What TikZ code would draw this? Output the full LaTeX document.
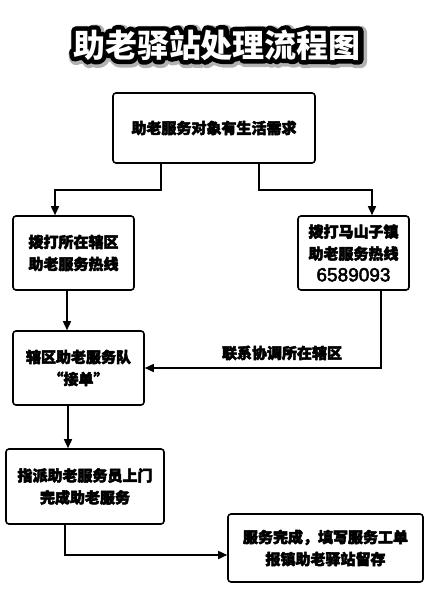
\documentclass[tikz,border=0pt]{standalone}
\usepackage{fontspec}
\setmainfont{Noto Sans CJK SC}
\newfontfamily\digitfont{Liberation Sans}
\usetikzlibrary{arrows.meta,calc}
\newcommand{\strokedtext}[2]{\special{pdf:literal direct 1 j 1 J #1 w 2 Tr}#2\special{pdf:literal direct 0 Tr 1 w}}
\newcommand{\hv}[1]{\strokedtext{0.5}{#1}}
\begin{document}
\begin{tikzpicture}[x=1pt,y=-1pt,
  box/.style={draw, line width=1.6pt, rounded corners=3pt, align=center, inner sep=0pt,
    font=\fontsize{15}{22}\selectfont\bfseries},
  arr/.style={line width=1.6pt, -{Triangle[length=9pt,width=8pt]}},
  lbl/.style={font=\fontsize{15}{22}\selectfont\bfseries, inner sep=0pt},
  tt/.style={font=\fontsize{32}{36}\selectfont\bfseries, inner sep=0pt}]
\useasboundingbox[fill=white] (0,0) rectangle (436,600);

% title with outline
\node[tt, text=black!30] (tshadow) at (218.5,46.5) {\strokedtext{13}{助老驿站处理流程图}};
\node[tt, text=black] (tstroke) at (217,45) {\strokedtext{9}{助老驿站处理流程图}};
\node[tt, text=white] (title) at (217,45) {助老驿站处理流程图};

% boxes
\node[box, minimum width=202pt, minimum height=70pt] (top) at (214,128) {\hv{助老服务对象有生活需求}};
\node[box, minimum width=121pt, minimum height=74pt] (L1) at (73.5,253) {\hv{拨打所在辖区\\助老服务热线}};
\node[box, minimum width=111pt, minimum height=74pt] (R1) at (353.5,253) {\hv{拨打马山子镇\\助老服务热线\\{\digitfont\mdseries\fontsize{19}{22}\selectfont 6589093}}};
\node[box, minimum width=131pt, minimum height=74pt] (L2) at (78.5,368) {\hv{辖区助老服务队\\“接单”}};
\node[box, minimum width=158pt, minimum height=75pt] (L3) at (85,486.5) {\hv{指派助老服务员上门\\完成助老服务}};
\node[box, minimum width=195pt, minimum height=68pt] (R4) at (325.5,548) {\hv{服务完成，填写服务工单\\报镇助老驿站留存}};

% helper coordinates
\coordinate (tl) at (161,190);
\coordinate (tr) at (259,190);
\coordinate (xl1) at (55,0);
\coordinate (xr1) at (372,0);
\coordinate (x67) at (67,0);
\coordinate (x381) at (381,0);
\coordinate (x68) at (68,0);
\coordinate (c555) at (65,555);

% connectors
\draw[arr] (top.south -| tl) -- (tl) -| (L1.north -| xl1);
\draw[arr] (top.south -| tr) -- (tr) -| (R1.north -| xr1);
\draw[arr] (L1.south -| x67) -- (L2.north -| x67);
\draw[arr] (R1.south -| x381) |- (L2.east);
\node[lbl] (lab) at (282,353) {\hv{联系协调所在辖区}};
\draw[arr] (L2.south -| x68) -- (L3.north -| x68);
\draw[arr] (L3.south -| c555) |- (R4.west |- c555);
\end{tikzpicture}
\end{document}
